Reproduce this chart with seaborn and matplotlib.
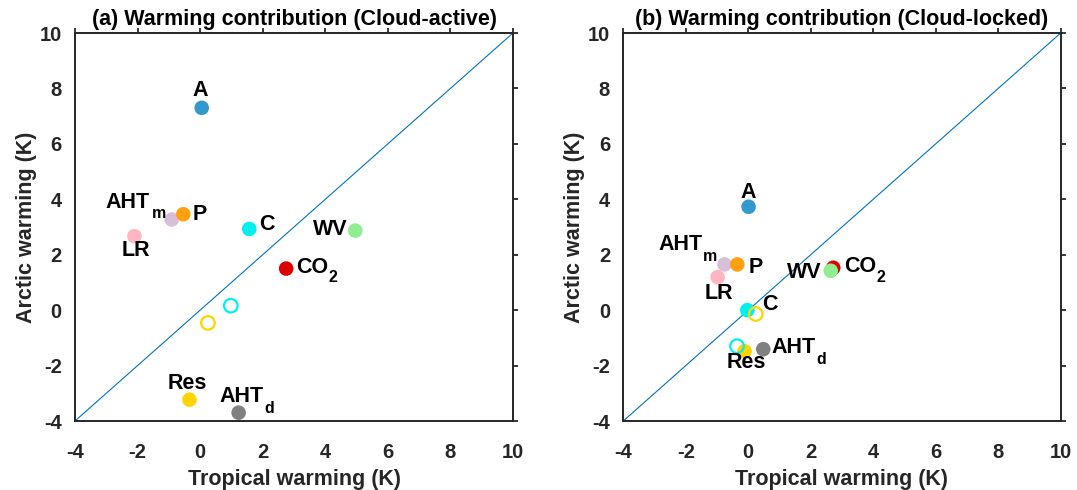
import numpy as np
import pandas as pd
import matplotlib
matplotlib.use("Agg")
import matplotlib.pyplot as plt
import seaborn as sns

# ---------------- data ----------------
categories = ["LR", "AHTm", "P", "C", "CO2", "WV", "Res", "AHTd", "A"]
label_main = ["LR", "AHT", "P", "C", "CO", "WV", "Res", "AHT", "A"]
label_sub = ["", "m", "", "", "2", "", "", "d", ""]

# (a) Cloud-active
active_trop = [-2.10, -0.91, -0.54, 1.57, 2.75, 4.96, -0.34, 1.23, 0.05]
active_arct = [2.67, 3.27, 3.46, 2.93, 1.50, 2.87, -3.23, -3.70, 7.30]
# (b) Cloud-locked
locked_trop = [-0.98, -0.76, -0.35, -0.03, 2.72, 2.64, -0.12, 0.48, 0.01]
locked_arct = [1.19, 1.65, 1.65, 0.00, 1.53, 1.42, -1.48, -1.41, 3.73]

# open circles (cyan, yellow)
open_names = ["C_open", "Res_open"]
active_open_trop = [0.98, 0.25]
active_open_arct = [0.16, -0.46]
locked_open_trop = [-0.36, 0.24]
locked_open_arct = [-1.30, -0.14]

axis_ticks = [-4, -2, 0, 2, 4, 6, 8, 10]
titles = ["(a) Warming contribution (Cloud-active)",
          "(b) Warming contribution (Cloud-locked)"]

# ---------------- style ----------------
palette = {"A": "#3399CC", "P": "#FFA010", "AHTm": "#D8BFD8", "LR": "#FFB6C1",
           "C": "#00F0F0", "WV": "#90EE90", "CO2": "#DD0000", "Res": "#FFD400",
           "AHTd": "#808080"}
open_edge = {"C_open": "#00F0F0", "Res_open": "#FFD400"}

PX = 0.72  # points per pixel at dpi 100
# label offsets in pixels (dx, dy-down, ha, sub_dx, sub_dy)
offs_a = {"A": (-1, -12.3, "center"), "LR": (1.3, 20, "center"),
          "AHTm": (-21.7, -12, "right", -20, -2), "P": (9.3, 5.3, "left"),
          "C": (10, 1.3, "left"), "CO2": (9.7, 4, "left", 42, 13.3),
          "WV": (-8, 4, "right"), "Res": (-2.3, -10.3, "center"),
          "AHTd": (-19.3, -10.3, "left", 25.7, 0)}
offs_b = {"A": (0, -9, "center"), "LR": (1, 21.7, "center"),
          "AHTm": (-22, -14.3, "right", -21.3, -3.7), "P": (11, 8.3, "left"),
          "C": (14.3, 0.3, "left"), "CO2": (10.7, 4.7, "left", 43.3, 14),
          "WV": (-9, 7, "right"), "Res": (1.3, 16.7, "center"),
          "AHTd": (8.3, 3.7, "left", 53.3, 14.3)}

sns.set_style("white")
plt.rcParams["font.family"] = ["Liberation Sans", "DejaVu Sans"]
plt.rcParams["font.weight"] = "bold"
plt.rcParams["axes.labelweight"] = "bold"
plt.rcParams["axes.titleweight"] = "bold"

fig = plt.figure(figsize=(10.77, 4.9), dpi=100)
W, H = 1077, 490
ax_a = fig.add_axes([75 / W, 69 / H, 438 / W, 388 / H])
ax_b = fig.add_axes([623.3 / W, 69 / H, 437.4 / W, 388 / H])

panels = [
    (ax_a, active_trop, active_arct, active_open_trop, active_open_arct, offs_a, titles[0]),
    (ax_b, locked_trop, locked_arct, locked_open_trop, locked_open_arct, offs_b, titles[1]),
]

for ax, xt, ya, oxt, oya, offs, title in panels:
    df = pd.DataFrame({"name": categories, "trop": xt, "arct": ya,
                       "main": label_main, "sub": label_sub})
    dfo = pd.DataFrame({"name": open_names, "trop": oxt, "arct": oya})

    # 1:1 line
    sns.lineplot(x=[axis_ticks[0], axis_ticks[-1]], y=[axis_ticks[0], axis_ticks[-1]],
                 ax=ax, color="#0072BD", linewidth=0.8, zorder=1)
    # filled circles
    sns.scatterplot(data=df, x="trop", y="arct", hue="name", palette=palette,
                    s=110, linewidth=0, legend=False, ax=ax, zorder=3)
    # open circles
    sns.scatterplot(data=dfo, x="trop", y="arct", s=95, facecolors="none",
                    edgecolors=[open_edge[n] for n in dfo["name"]],
                    linewidth=1.6, legend=False, ax=ax, zorder=4)

    for _, r in df.iterrows():
        o = offs[r["name"]]
        ax.annotate(r["main"], xy=(r["trop"], r["arct"]),
                    xytext=(o[0] * PX, -o[1] * PX), textcoords="offset points",
                    ha=o[2], va="baseline", fontsize=15.5, fontweight="bold",
                    color="black", zorder=5)
        if r["sub"]:
            ax.annotate(r["sub"], xy=(r["trop"], r["arct"]),
                        xytext=(o[3] * PX, -o[4] * PX), textcoords="offset points",
                        ha="left", va="baseline", fontsize=11.5, fontweight="bold",
                        color="black", zorder=5)

    ax.set_xlim(axis_ticks[0], axis_ticks[-1])
    ax.set_ylim(axis_ticks[0], axis_ticks[-1])
    ax.set_xticks(axis_ticks)
    ax.set_yticks(axis_ticks)
    ax.set_xticklabels([str(t) for t in axis_ticks])
    ax.set_yticklabels([str(t) for t in axis_ticks])
    for sp in ax.spines.values():
        sp.set_visible(True)
        sp.set_color("#262626")
        sp.set_linewidth(1.4)
    ax.tick_params(axis="both", direction="out", length=3.5, width=1.3,
                   color="#262626", labelsize=14.5, labelcolor="#262626",
                   top=True, right=True, labeltop=False, labelright=False)
    ax.tick_params(axis="x", pad=12.5)
    ax.tick_params(axis="y", pad=6)
    ax.set_xlabel("Tropical warming (K)", fontsize=15.5, color="#262626")
    ax.set_ylabel("Arctic warming (K)", fontsize=15.5, color="#262626")
    ax.xaxis.set_label_coords(0.5, -0.124)
    ax.yaxis.set_label_coords(-0.087, 0.5)
    ax.set_title(title, fontsize=15.5, color="black", pad=6)

fig.savefig("out.png", dpi=100)
